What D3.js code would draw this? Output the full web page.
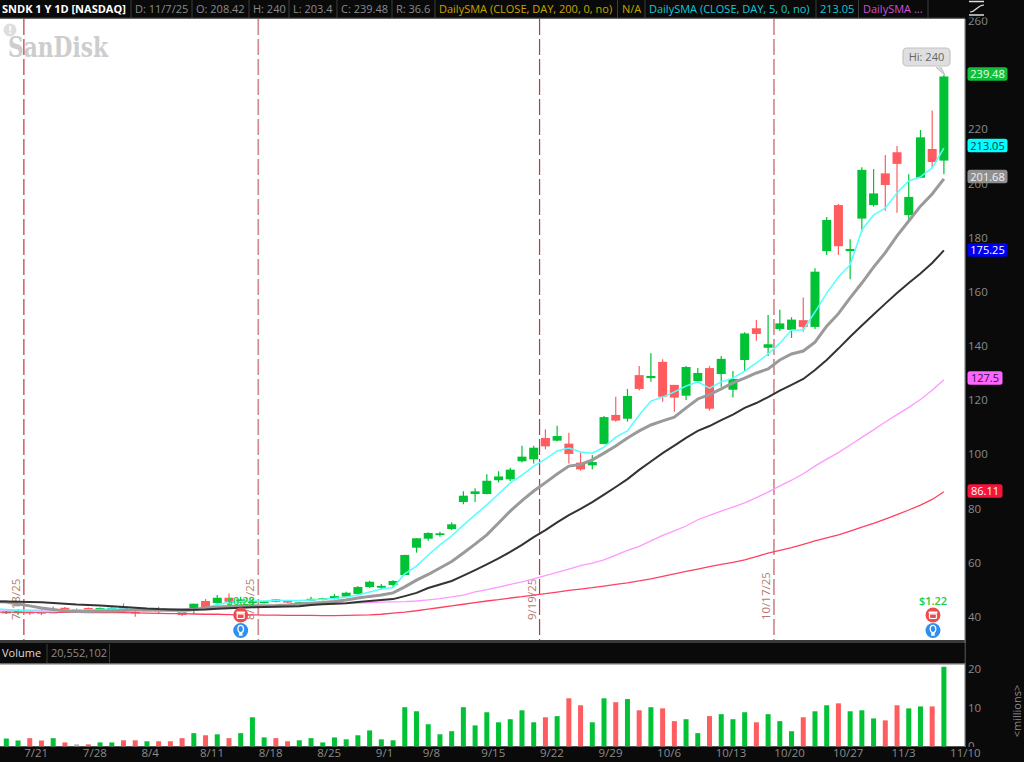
<!DOCTYPE html>
<html><head><meta charset="utf-8">
<script src="https://d3js.org/d3.v7.min.js"></script>
<style>html,body{margin:0;padding:0;background:#0a0a0a;overflow:hidden}svg{display:block}text{font-family:"Open Sans",sans-serif}</style>
</head><body><svg id="c" width="1024" height="762"></svg>
<script>
const opens=[41.25,41.4,41.8,41.7,41.25,43.3,42.8,43.2,42.7,42.7,
43.7,41.8,42.4,42.5,42.5,41.8,43.1,45.8,45,47,
45.2,45.05,45,46.4,45.8,44.6,45.9,46.16,46.5,47.4,
48.4,50.96,50.7,51.7,55.4,65.48,68.8,70.16,72.38,82.35,
85.3,85.3,90.4,90.7,97.4,98.1,106,105,103.9,96.9,
95.9,103.8,114.5,113.1,129.2,128.1,134.1,125.6,121.6,127,
131.8,129.6,123.8,134.8,146.5,139.3,146.2,145.9,149.5,147,
175,192,175,187,192,203.7,211.5,188.3,202.1,212.7,208.42];
const highs=[42.1,42.8,42.5,42.5,43.7,43.6,43.2,43.4,43.4,43.5,
44.9,42.5,42.8,43.7,42.8,42.3,44.8,46.5,48,48.6,
47.4,46.5,45.9,46.5,46,45.5,47.4,47,48.4,49.2,
51.3,53.3,52.06,53.5,62.9,69,71.16,71.38,74.86,86.3,
87.4,92.6,93.7,95,103.1,103.1,109.2,110.5,107.9,100.9,
99.7,114.1,121.2,124.1,132.6,137.3,135.1,125.6,132.6,131.8,
132.6,136.3,130.7,145,149.6,151.4,153.3,150.6,157.9,168.7,
187.6,192.4,179.4,206,205.3,210.5,213.8,203.4,219.7,226.9,240];
const lows=[41,40.6,40.6,40.6,41.25,42.3,42.5,42.3,42.5,42.5,
42.5,40,42.2,41,41.9,40.3,41,43.1,44.9,44.7,
44.9,44.7,44.9,45.2,45,44.4,45.8,46,46.4,47.2,
48.1,50.6,49.85,50.8,55.3,63.63,68.06,69.54,72,81.5,
82.35,85.2,89.6,90.1,96.9,96.6,101.8,104.8,96.6,93.9,
94.4,103.7,112,112,123.5,126.8,119.4,115.7,120,126.4,
116.1,124.9,120.9,130.5,141.9,136.3,145.5,142.9,145.2,146.2,
173.6,173.6,164.6,182.2,191.4,189.9,189.2,186.5,202.1,205.7,203.4];
const closes=[41.84,41.9,41.55,41.4,42.2,42.5,42.8,42.5,43.2,43.3,
42.7,41.5,42.6,42.2,42.1,40.6,44.8,43.2,47,45.5,
46.4,45.8,45.7,45.4,45.2,45.3,46.6,46.8,47.6,48.85,
50.96,52.9,51.4,53.2,62.8,68.95,70.9,70.79,74.12,84.68,
86.3,90.2,91.8,94.3,99.1,102.4,102.9,106.7,100.1,94.4,
97.1,113.7,112.4,121.5,124.1,128.9,121.2,120.9,132.2,130,
116.8,135.2,127.8,144.6,144.4,140.6,148.3,149.7,147,167.4,
186.5,176.8,175.8,205,196.3,199.4,207.2,195,217,207.9,239.48];
const volumes=[2,1.5,2.1,1.5,2.1,1,0.5,0.5,1,1,
1.55,1.55,1.3,1.3,1.3,2.1,3.4,2.85,3.1,2.1,
3.4,7.5,2.3,2.1,1.3,1.55,2.1,1,2.3,1.8,
2.85,4.1,1.8,1.55,10.1,9.05,5.7,3.1,3.9,10.1,
5.4,8.8,6.2,7,9.3,6.2,7.5,7.8,12.4,10.6,
6.2,12.4,11.4,12.2,9.3,10.1,9.8,6.5,7,3.4,
7.8,8.3,7,8.8,6.2,8.3,6.5,3.9,7.5,9.05,
10.6,11.1,9.05,9.3,7.2,6.7,10.6,9.8,10.3,10.3,20.55];
// averages start one session before the first visible candle (off the left edge)
const sma5=[43,42.7,42.3,42.1,41.9,41.9,42.1,42.3,42.5,42.7,42.8,
42.8,42.7,42.5,42.1,42.1,41.7,42.3,43.2,44.5,45.2,
45.6,45.8,45.8,46,46,46,46.2,46.4,46.7,47.3,
48,49.1,50.2,50.8,55.8,58.7,62.8,66.5,69.8,73.8,
77.6,81.3,85.3,89.4,92.3,95.6,98.2,101.2,102.3,100.8,
100.4,102.6,106.3,108.6,114.5,119.6,121.1,123,125.2,126.7,
124.4,126.7,128.1,130.7,133.7,137,141,145.9,145.9,152.5,
159.5,165.4,169.9,182.8,188.3,190.9,196.5,200.9,202.4,205.7,213.05];
const smaGray=[45.7,45.4,44.7,44,43.2,42.7,42.1,41.9,41.9,42.1,42.1,
42.3,42.5,42.5,42.5,42.5,42.5,42.7,43.2,43.6,43.8,
44,44,44,44.1,44.3,44.7,45,45.2,45.6,46.2,
46.9,47.5,48,48.8,51,53.5,55.6,58,60.4,63.5,
66.8,70.2,74.6,79,82.9,86.4,89.5,92.7,95.6,96.2,
97.9,100.4,103,106,108.6,110.8,112.3,113.7,117.1,120.4,
122,124.1,126.3,128.1,130,131.5,134.8,137,138.1,141.4,
147.3,151.9,157.7,163.2,169.1,174.4,180.6,186.1,191.6,196.1,201.68];
const smaBlack=[45.7,45.6,45.5,45.4,45.3,45.1,44.8,44.5,44.3,44.1,43.9,
43.6,43.3,43,42.8,42.7,42.6,42.6,42.7,42.9,43.1,
43.3,43.5,43.6,43.7,43.8,43.9,44.3,44.6,44.8,45,
45.4,45.8,46.2,46.5,47.6,48.8,50.6,51.9,53.2,55.2,
57.2,59.3,61.5,63.9,66.5,69.4,72,74.8,77.5,79.8,
82.3,85.1,87.9,90.8,94.2,97.3,100.4,103.2,106,108.6,
110.4,112.6,114.6,117.1,118.9,121.1,123.5,125.6,127.8,131.1,
134.8,139,143.4,147.5,151.6,155.6,159.5,163.2,166.7,170.6,175.25];
const smaMagenta=[42.4,42.4,42.4,42.4,42.4,42.4,42.4,42.4,42.4,42.4,42.4,
42.4,42.4,42.4,42.5,42.6,42.7,42.8,43,43.1,43.3,
43.5,43.7,43.9,44,44.2,44.3,44.5,44.7,44.8,44.9,
45,45.2,45.4,45.5,45.6,45.8,46.2,46.7,47.3,48,
49.2,50,50.9,51.9,52.9,54,55.2,56.4,57.6,58.9,
59.8,61,62.7,64.5,66,68,70,71.7,73.5,75.8,
77.4,79,80.5,82,84,86,88.3,90.4,92.8,95.6,
98.2,100.6,103.4,106.2,109,111.9,114.6,117.3,120.2,123.6,127.5];
const smaRed=[41.7,41.7,41.7,41.7,41.6,41.6,41.6,41.6,41.5,41.5,41.5,
41.5,41.4,41.3,41.2,41.1,41.1,41,40.9,40.9,40.8,
40.7,40.7,40.6,40.6,40.5,40.5,40.5,40.4,40.4,40.5,
40.6,40.7,40.9,41.3,41.7,42.2,42.8,43.4,44,44.6,
45.2,45.8,46.3,46.9,47.4,48,48.5,49.1,49.7,50.2,
50.7,51.3,51.9,52.5,53.2,54,54.9,55.8,56.7,57.6,
58.5,59.3,60.1,61,62.2,63.5,64.5,65.5,66.7,68,
69.1,70.2,71.6,73.1,74.5,76,77.7,79.4,81.2,83.3,86.11];
const priceTicks=[40,60,80,100,120,140,160,180,200,220,260];
const volumeTicks=[0,10,20];
const dateTickLabels=["7/21","7/28","8/4","8/11","8/18","8/25","9/1","9/8","9/15","9/22","9/29","10/6","10/13","10/20","10/27","11/3","11/10"];
const dateTickBars=[2,7,12,17,22,27,32,36,41,46,51,56,61,66,71,76,81];
const expiryLabels=["7/18/25","8/15/25","9/19/25","10/17/25"];
const expiryBars=[1.5,21.5,45.5,65.5];
const headerItems=["SNDK 1 Y 1D [NASDAQ]","D: 11/7/25","O: 208.42","H: 240","L: 203.4","C: 239.48","R: 36.6","DailySMA (CLOSE, DAY, 200, 0, no)","N/A","DailySMA (CLOSE, DAY, 5, 0, no)","213.05","DailySMA ..."];
const headerX=[2,135,196,253,293,341,396,439,622,649,820,863];
const headerSeps=[131,192,249,289,337,392,435,617.5,645,816,858.5,928];
const headerColors=["#fff","#8b8b8b","#8b8b8b","#8b8b8b","#8b8b8b","#8b8b8b","#8b8b8b","#c9a400","#c9a400","#13c9d6","#13c9d6","#d050d8"];
const priceTags=[239.48,213.05,201.68,175.25,127.5,86.11];
const priceTagFill=["#11bf3a","#00ffff","#8f8f8f","#0000f0","#ff66ff","#f5143c"];
const priceTagText=["#e8ffe8","#063a3a","#f2f2f2","#ffffff","#3a103a","#ffffff"];
const priceTagWidth=[40,40,40,40,35,35];

const svg=d3.select("#c");
const green="#00c234",red="#ff5c60",gray="#b5b5b5";
const x=d3.scaleLinear().domain([0,80]).range([6.3,943.9]);
const y=d3.scaleLinear().domain([40,260]).range([616.7,20.9]);
const yv=d3.scaleLinear().domain([0,20]).range([746.3,668.9]);
const idx=d3.range(closes.length);
const colorOf=i=>closes[i]>opens[i]?green:closes[i]<opens[i]?red:gray;

svg.append("rect").attr("width",1024).attr("height",762).attr("fill","#0a0a0a");
svg.append("rect").attr("x",0).attr("y",19).attr("width",965).attr("height",621).attr("fill","#fff");
svg.append("rect").attr("x",0).attr("y",664).attr("width",965).attr("height",82).attr("fill","#fff");
svg.append("rect").attr("x",0).attr("y",640).attr("width",965).attr("height",3).attr("fill","#3a3a3a");
svg.append("rect").attr("x",0).attr("y",663).attr("width",965).attr("height",1.5).attr("fill","#6a6a6a");
svg.append("rect").attr("x",0).attr("y",746).attr("width",965).attr("height",1).attr("fill","#555");
svg.append("rect").attr("x",964.5).attr("y",19).attr("width",1.2).attr("height",728).attr("fill","#777");
svg.append("rect").attr("x",0).attr("y",17.5).attr("width",965).attr("height",1.5).attr("fill","#666");

// logo
const logo=svg.append("g");
logo.append("circle").attr("cx",10).attr("cy",30).attr("r",6.5).attr("fill","#dedede");
logo.append("text").attr("x",10).attr("y",34).attr("text-anchor","middle").attr("font-size",11).attr("font-weight",700).attr("fill","#fff").text("!");
logo.append("text").attr("x",8).attr("y",57).attr("font-size",27).attr("font-weight",700).style("font-family","'DejaVu Serif',serif").attr("fill","#cdcdcd").attr("textLength",100).attr("lengthAdjust","spacingAndGlyphs").text("SanDisk");

// expiry lines
const lineColors=["#c4333a","#d08c8e","#c4333a","#d08c8e"];
const lineWidths=[1.2,1.7,1.2,1.7];
expiryBars.forEach((b,k)=>{
  svg.append("line").attr("x1",x(b)).attr("x2",x(b)).attr("y1",19).attr("y2",640)
    .attr("stroke",lineColors[k]).attr("stroke-width",lineWidths[k]).attr("stroke-dasharray","16,4");
  svg.append("text").attr("transform",`translate(${x(b)-4},620) rotate(-90)`)
    .attr("font-size",11.5).attr("fill","#b07a70").text(expiryLabels[k]);
});

// candles
const c=svg.append("g");
c.selectAll("line").data(idx).join("line").attr("x1",i=>x(i)).attr("x2",i=>x(i))
  .attr("y1",i=>y(highs[i])).attr("y2",i=>y(lows[i])).attr("stroke",colorOf).attr("stroke-width",1.2);
c.selectAll("rect").data(idx).join("rect").attr("x",i=>x(i)-4.5).attr("width",9)
  .attr("y",i=>Math.min(y(opens[i]),y(closes[i])))
  .attr("height",i=>Math.max(1.6,Math.abs(y(opens[i])-y(closes[i])))).attr("fill",colorOf);

// averages
const line=d3.line().x((d,i)=>x(i-1)).y(d=>y(d));
[[smaRed,"#ff4060",1.3],[smaMagenta,"#ff99ff",1.3],[sma5,"#55ffff",1.5],[smaGray,"#9a9a9a",3],[smaBlack,"#333",2]]
.forEach(([s,col,w])=>svg.append("path").attr("d",line(s)).attr("fill","none").attr("stroke",col).attr("stroke-width",w));

// event marks
const evBars=[20,79],evText=["$0.28","$1.22"];
evBars.forEach((b,k)=>{
  const cx=x(b)+(k==0?0:0.8);
  svg.append("text").attr("x",cx).attr("y",605).attr("text-anchor","middle").attr("font-size",11).attr("font-weight",600).attr("fill","#22cc44").text(evText[k]);
  const p=svg.append("g").attr("transform",`translate(${cx},615)`);
  p.append("circle").attr("r",7.5).attr("fill","#ee4b4f");
  p.append("rect").attr("x",-4.5).attr("y",-3.5).attr("width",9).attr("height",2.2).attr("rx",1).attr("fill","#fff");
  p.append("rect").attr("x",-3.5).attr("y",-1).attr("width",7).attr("height",4.5).attr("rx",1).attr("fill","none").attr("stroke","#fff").attr("stroke-width",1.2);
  const q=svg.append("g").attr("transform",`translate(${cx},630.5)`);
  q.append("circle").attr("r",7.5).attr("fill","#2f8fee");
  q.append("ellipse").attr("cy",-1.5).attr("rx",2.8).attr("ry",3.6).attr("fill","none").attr("stroke","#fff").attr("stroke-width",1.3);
  q.append("rect").attr("x",-1.8).attr("y",2.6).attr("width",3.6).attr("height",2.6).attr("fill","#fff");
});

// volume
svg.append("g").selectAll("rect").data(idx).join("rect").attr("x",i=>x(i)-2.5).attr("width",5)
  .attr("y",i=>yv(volumes[i])).attr("height",i=>yv(0)-yv(volumes[i])).attr("fill",colorOf);

// axes
const pa=svg.append("g").attr("transform","translate(964,0)").call(d3.axisRight(y).tickValues(priceTicks).tickSize(0).tickPadding(4));
const va=svg.append("g").attr("transform","translate(964,0)").call(d3.axisRight(yv).tickValues(volumeTicks).tickSize(0).tickPadding(4));
// the volume axis zero is cut by the date strip
svg.append("rect").attr("x",965.7).attr("y",747).attr("width",60).attr("height",15).attr("fill","#0a0a0a");
const xa=svg.append("g").attr("transform","translate(-6,746)").call(d3.axisBottom(x).tickValues(dateTickBars).tickSize(0).tickPadding(3).tickFormat(d=>dateTickLabels[dateTickBars.indexOf(d)]));
[pa,va,xa].forEach(a=>{a.select(".domain").remove();a.selectAll("text").attr("fill","#8b8b8b").attr("font-size",11.5).style("font-family","'Open Sans',sans-serif");});
xa.selectAll("text").attr("text-anchor","start");
svg.append("text").attr("transform","translate(1021,711) rotate(-90)").attr("text-anchor","middle").attr("font-size",11).attr("fill","#8b8b8b").text("<millions>");

// panel covers
svg.append("rect").attr("x",0).attr("y",0).attr("width",1024).attr("height",17.5).attr("fill","#0a0a0a");
svg.append("rect").attr("x",0).attr("y",643).attr("width",965).attr("height",20).attr("fill","#0a0a0a");
svg.append("rect").attr("x",964.5).attr("y",643).attr("width",1.2).attr("height",20).attr("fill","#3a3a3a");

// header
headerItems.forEach((t,k)=>svg.append("text").attr("x",headerX[k]).attr("y",12.5).attr("font-size",11).attr("font-weight",k==0?700:400).attr("fill",headerColors[k]).text(t));
headerSeps.forEach(s=>svg.append("line").attr("x1",s).attr("x2",s).attr("y1",0).attr("y2",18).attr("stroke","#3c3c3c"));
// corner icon
const ic=svg.append("g").attr("stroke","#ddd").attr("fill","none");
ic.append("line").attr("x1",969).attr("x2",984).attr("y1",1.5).attr("y2",1.5).attr("stroke-width",1.5);
ic.append("line").attr("x1",969).attr("x2",984).attr("y1",15).attr("y2",15).attr("stroke-width",1.5);
ic.append("path").attr("d","M970,12 C976,12 977,5 984,5").attr("stroke-width",1.2);

// volume header
svg.append("text").attr("x",2).attr("y",657).attr("font-size",11).attr("fill","#ddd").text("Volume");
svg.append("text").attr("x",51).attr("y",657).attr("font-size",11).attr("fill","#8b8b8b").text("20,552,102");
[47,109.5].forEach(s=>svg.append("line").attr("x1",s).attr("x2",s).attr("y1",644).attr("y2",663).attr("stroke","#3c3c3c"));

// price tags
const tagY=[74,145.5,176.5,250,378,491];
priceTags.forEach((v,k)=>{
  svg.append("rect").attr("x",967.5).attr("y",tagY[k]-6.8).attr("width",priceTagWidth[k]).attr("height",13.6).attr("rx",2.5).attr("fill",priceTagFill[k]);
  svg.append("text").attr("x",967.5+priceTagWidth[k]/2).attr("y",tagY[k]+4).attr("text-anchor","middle").attr("font-size",11).attr("fill",priceTagText[k]).text(v);
});
// Hi callout
const hx=x(80)+1,hy=y(240);
svg.append("path").attr("d",`M${hx-4},${hy-8} L${hx},${hy} L${hx-9},${hy-8}`).attr("fill","#ddd").attr("stroke","#bbb");
svg.append("rect").attr("x",903).attr("y",48).attr("width",47).attr("height",18).attr("rx",4).attr("fill","#dfdfdf").attr("stroke","#c4c4c4").attr("stroke-width",1.2);
svg.append("text").attr("x",926.5).attr("y",61).attr("text-anchor","middle").attr("font-size",11).attr("fill","#666").text("Hi: 240");
</script></body></html>
